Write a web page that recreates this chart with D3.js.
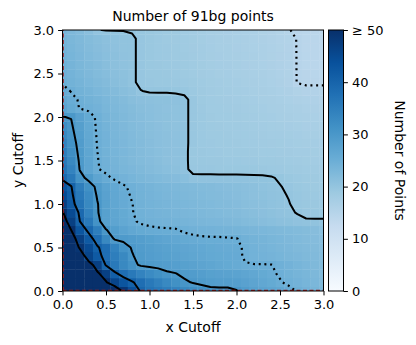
<!DOCTYPE html>
<html>
<head>
<meta charset="utf-8">
<script src="https://cdnjs.cloudflare.com/ajax/libs/d3/7.8.5/d3.min.js"></script>
<style>
	body { margin: 0; background: #fff; }
	svg text { font-family: "DejaVu Sans", sans-serif; fill: #000; }
</style>
</head>
<body>
<div id="chart"></div>
<script>

// cutoff values on both axes (grid points)
var cutoffs = [0.0,0.1,0.2,0.3,0.4,0.5,0.6,0.7,0.8,0.9,1.0,1.1,1.2,1.3,1.4,1.5,
               1.6,1.7,1.8,1.9,2.0,2.1,2.2,2.3,2.4,2.5,2.6,2.7,2.8,2.9,3.0];

// number of 91bg points, counts[j][i] -> y cutoff = cutoffs[j], x cutoff = cutoffs[i]
var counts = [
 [95,88,80,72,65,60,55,49,44,39.5,37,36,35,34,33,32,31.5,31,31,31,30.2,29,28,27.5,27,26.5,25.8,24.8,24,23.5,23],
 [85,78,70,62,56,50.5,46,43,40.5,38,36,34.5,33,31.5,30.5,29.8,29.3,28.8,28.5,28.5,28.3,27.8,27.2,26.6,26,25.2,24.5,24,23.5,23,22.5],
 [80,72,65,58,51,47,41,38,36,34,32.5,31.5,30.5,30.1,29.3,29,28.5,28,27.8,27.6,27.4,27,26.5,26,25.4,24.7,24.2,23.7,23.3,22.8,22.3],
 [75,67,60,53,47,39.5,36,33,31,29.5,29.2,29,28.7,28.3,28,27.6,27.2,26.8,26.4,26,25.6,25.2,25.1,25.1,25.05,24.5,24,23.5,23,22.6,22.2],
 [70,62,55,46,42,38,35,33,30.2,29.2,28.7,28.3,28,27.6,27.2,26.8,26.5,26.2,26,25.9,25.8,24.6,24.1,24,23.8,23.5,23.2,22.9,22.6,22.3,22],
 [65,57,49,45,40.5,38,34,31,29.8,29,28.5,28.1,27.7,27.3,26.9,26.6,26.3,26,25.8,25.6,25.6,24.6,24.1,23.8,23.5,23.2,22.9,22.6,22.3,22,21.8],
 [61,53,47,42,38,33,29.6,29.4,29,28.5,28,27.5,27,26.5,26,25.6,25.4,25.3,25.3,25.2,25.1,24.3,23.9,23.6,23.3,23,22.7,22.4,22.1,21.8,21.6],
 [57,50,43,39,35,30.2,28.6,27.5,26.6,26,25.6,25.4,25.3,25.2,24.6,24.3,24.1,24,23.9,23.8,23.6,23.4,23.2,23,22.8,22.6,22.4,22.2,21.9,21.6,21.3],
 [53,47,40,36,31,28,27,26.2,25.4,24.6,24.3,24.1,24,23.9,23.7,23.4,23.2,23,22.9,22.7,22.5,22.2,21.9,21.6,21.3,21,20.8,20.5,20.3,20.3,20.3],
 [50.5,45,39,34,30.3,28,26.8,26,25.1,24.4,24,23.8,23.6,23.4,23.2,23,22.8,22.6,22.4,22.2,22,21.7,21.4,21.1,20.8,20.5,20.3,19.9,19.4,19.3,19.3],
 [47,42,37,33,30.2,28,26.6,25.8,25.05,24.3,23.9,23.6,23.4,23.2,23,22.8,22.6,22.4,22.2,22,21.8,21.5,21.2,20.9,20.6,20.4,20.1,19.5,19.2,19.1,19],
 [45,41,36,32.5,29.7,27.8,26.5,25.6,24.8,24.2,23.8,23.5,23.2,23,22.8,22.6,22.4,22.2,22,21.8,21.6,21.3,21,20.8,20.5,20.3,19.9,19.5,19.1,19,18.9],
 [43,40.2,35,31.5,29.3,27.5,26.3,25.3,24.5,24,23.6,23.3,23,22.8,22.6,22.4,22.2,22,21.8,21.6,21.4,21.2,20.9,20.6,20.3,20.1,19.6,19.3,19,18.8,18.7],
 [39,36,31,29.2,27,25.6,24.6,24,23.5,23.1,22.7,22.4,22.1,21.8,21.3,20.5,20.45,20.45,20.45,20.45,20.45,20.45,20.4,20.4,20.2,19.7,19.3,19,18.8,18.6,18.5],
 [37,34,29.8,27,25.2,24.4,23.8,23.3,22.9,22.5,22.1,21.7,21.3,20.9,20.5,19.4,19.4,19.4,19.3,19.3,19.3,19.2,19.2,19.1,19,18.9,18.8,18.6,18.5,18.3,18.2],
 [36,33,29.5,27,25.1,24.3,23.6,23.1,22.6,22.2,21.8,21.4,21,20.7,20.5,19.3,19.2,19.1,19.1,19,19,18.9,18.9,18.8,18.7,18.6,18.5,18.3,18.1,18,17.9],
 [35,32,29.2,26.8,25.02,24.2,23.5,23,22.5,22.1,21.7,21.3,20.9,20.7,20.5,19.3,19.1,19,18.9,18.8,18.8,18.7,18.6,18.5,18.4,18.3,18.2,18,17.9,17.8,17.7],
 [34,31.3,29,26.6,24.9,24.1,23.4,22.9,22.4,22,21.6,21.2,20.9,20.7,20.5,19.4,19,18.9,18.8,18.7,18.6,18.5,18.4,18.3,18.2,18.1,18,17.8,17.7,17.6,17.5],
 [33,30.8,28.6,26.4,24.8,24,23.3,22.8,22.3,21.9,21.5,21.2,20.9,20.7,20.5,19.4,19,18.8,18.7,18.6,18.5,18.4,18.3,18.2,18,17.9,17.8,17.6,17.4,17.3,17.2],
 [32,30.3,28.4,26.2,24.7,23.9,23.2,22.7,22.2,21.8,21.4,21.1,20.8,20.6,20.5,19.4,19,18.7,18.6,18.5,18.4,18.3,18.1,18,17.8,17.7,17.5,17.3,17.1,17,16.9],
 [30.05,29.9,27.8,26,24.6,23.7,23.1,22.6,22.1,21.7,21.3,21,20.8,20.6,20.5,19.4,19,18.6,18.5,18.4,18.3,18.1,17.9,17.8,17.6,17.4,17.2,17,16.8,16.7,16.6],
 [27.5,26,24.9,24.5,24,23.3,22.8,22.3,21.9,21.5,21.2,20.9,20.7,20.6,20.5,19.4,18.9,18.5,18.4,18.3,18.2,18,17.8,17.6,17.4,17.2,17,16.8,16.6,16.4,16.3],
 [26.5,25.5,24.8,24.2,23.6,23,22.5,22,21.5,21.1,20.9,20.8,20.8,20.7,20.5,19.4,18.8,18.4,18.3,18.2,18,17.8,17.6,17.4,17.2,17,16.7,16.4,16.2,16.1,16],
 [25.6,24.9,24.2,23.6,23,22.5,22,21.5,21,20.05,19.8,19.8,19.8,19.7,19.5,19,18.6,18.3,18.1,18,17.8,17.6,17.4,17.2,17,16.7,16.4,15.9,15.7,15.7,15.7],
 [24.8,24.2,23.6,23,22.5,22,21.5,21,20.3,19.6,19.4,19.3,19.2,19.1,19,18.7,18.4,18.1,17.9,17.8,17.6,17.4,17.2,17,16.7,16.4,16,14.9,14.6,14.6,14.6],
 [24.5,23.9,23.3,22.7,22.2,21.7,21.2,20.8,20.3,19.6,19.3,19.2,19.1,19,18.8,18.5,18.2,17.9,17.7,17.6,17.4,17.2,17,16.8,16.5,16.2,15.9,14.9,14.6,14.5,14.5],
 [24.3,23.7,23.1,22.5,22,21.5,21,20.6,20.3,19.6,19.3,19.1,19,18.9,18.7,18.4,18.1,17.8,17.6,17.5,17.3,17.1,16.9,16.7,16.4,16.1,15.8,14.9,14.5,14.4,14.4],
 [24.1,23.5,22.9,22.3,21.8,21.3,20.9,20.5,20.3,19.6,19.2,19,18.9,18.8,18.6,18.3,18,17.7,17.5,17.4,17.2,17,16.8,16.6,16.3,16,15.8,14.9,14.5,14.4,14.3],
 [23.9,23.3,22.7,22.1,21.6,21.1,20.7,20.4,20.3,19.6,19.2,19,18.9,18.7,18.5,18.2,17.9,17.6,17.4,17.3,17.1,16.9,16.7,16.5,16.2,15.9,15.7,14.9,14.4,14.3,14.3],
 [23.7,23.1,22.5,21.9,21.4,20.9,20.6,20.4,20.3,19.6,19.2,19,18.8,18.6,18.4,18.1,17.8,17.5,17.3,17.2,17,16.8,16.6,16.4,16.1,15.8,15.6,14.9,14.4,14.3,14.2],
 [23.4,22.7,22,21.2,20.05,19.95,19.95,19.95,19.8,19.5,19.2,19,18.8,18.6,18.3,18,17.7,17.4,17.2,17.1,16.9,16.7,16.5,16.3,16,15.6,15.1,14.6,14.3,14.2,14.2]
];

var solidLevels = [20, 30, 40, 50];
var dottedLevels = [15, 25];
var axisTicks = [0, 0.5, 1, 1.5, 2, 2.5, 3];
var barTicks = [0, 10, 20, 30, 40, 50];
var vmax = 50;
var blues = ["#f7fbff","#deebf7","#c6dbef","#9ecae1","#6baed6","#4292c6","#2171b5","#08519c","#08306b"];

var width = 416, height = 345;
var plot = {left: 62.5, right: 323.5, top: 30, bottom: 291};
var bar = {left: 328.5, right: 343.5};

var x = d3.scaleLinear().domain([0, 3]).range([plot.left, plot.right]);
var y = d3.scaleLinear().domain([0, 3]).range([plot.bottom, plot.top]);
var color = d3.scaleLinear()
    .domain(blues.map(function(c, i) { return i * vmax / (blues.length - 1); }))
    .range(blues)
    .clamp(true);

var svg = d3.select("#chart").append("svg")
    .attr("width", width)
    .attr("height", height);

svg.append("defs").append("clipPath").attr("id", "plotclip")
    .append("rect")
    .attr("x", plot.left).attr("y", plot.top)
    .attr("width", plot.right - plot.left)
    .attr("height", plot.bottom - plot.top);

var g = svg.append("g").attr("clip-path", "url(#plotclip)");

// heatmap cells, centred on grid points
var step = cutoffs[1] - cutoffs[0];
var cells = [];
counts.forEach(function(row, j) {
    row.forEach(function(v, i) { cells.push({i: i, j: j, v: v}); });
});
g.selectAll("rect.cell")
    .data(cells)
    .enter().append("rect")
    .attr("class", "cell")
    .attr("x", function(d) { return x(cutoffs[d.i] - step / 2); })
    .attr("y", function(d) { return y(cutoffs[d.j] + step / 2); })
    .attr("width", x(step) - x(0) + 0.4)
    .attr("height", y(0) - y(step) + 0.4)
    .attr("fill", function(d) { return color(d.v); });

// contour lines
var n = cutoffs.length;
var flat = [];
counts.forEach(function(row) { row.forEach(function(v) { flat.push(v); }); });

var proj = d3.geoTransform({
    point: function(px, py) {
        this.stream.point(x(cutoffs[0] + (px - 0.5) * step), y(cutoffs[0] + (py - 0.5) * step));
    }
});
var path = d3.geoPath(proj);

function drawLevels(levels, dash) {
    var cs = d3.contours().size([n, n]).thresholds(levels)(flat);
    g.selectAll(null)
        .data(cs)
        .enter().append("path")
        .attr("d", path)
        .attr("fill", "none")
        .attr("stroke", "#000")
        .attr("stroke-width", dash ? 2.2 : 2)
        .attr("stroke-linejoin", "round")
        .attr("stroke-dasharray", dash);
}
drawLevels(solidLevels, null);
drawLevels(dottedLevels, "2,3.7");

// red dashed lines at zero
g.append("line")
    .attr("x1", x(0)).attr("x2", x(0)).attr("y1", y(0)).attr("y2", y(3))
    .attr("stroke", "#a51c1c").attr("stroke-width", 2.6).attr("stroke-dasharray", "4,2.5");
g.append("line")
    .attr("x1", x(0)).attr("x2", x(3)).attr("y1", y(0)).attr("y2", y(0))
    .attr("stroke", "#a51c1c").attr("stroke-width", 2.6).attr("stroke-dasharray", "4,2.5");

// axes
var fmt = d3.format(".1f");
var xAxis = svg.append("g")
    .attr("transform", "translate(0," + plot.bottom + ")")
    .call(d3.axisBottom(x).tickValues(axisTicks).tickFormat(fmt).tickSize(4.4).tickPadding(4));
var yAxis = svg.append("g")
    .attr("transform", "translate(" + plot.left + ",0)")
    .call(d3.axisLeft(y).tickValues(axisTicks).tickFormat(fmt).tickSize(4.4).tickPadding(4));
[xAxis, yAxis].forEach(function(a) {
    a.select(".domain").remove();
    a.attr("font-family", "DejaVu Sans").attr("font-size", 13);
});

svg.append("rect")
    .attr("x", plot.left).attr("y", plot.top)
    .attr("width", plot.right - plot.left).attr("height", plot.bottom - plot.top)
    .attr("fill", "none").attr("stroke", "#000").attr("stroke-width", 1);

// colorbar
var cb = d3.scaleLinear().domain([0, vmax]).range([plot.bottom, plot.top]);
var grad = svg.select("defs").append("linearGradient")
    .attr("id", "cbgrad")
    .attr("x1", 0).attr("y1", 1).attr("x2", 0).attr("y2", 0);
blues.forEach(function(c, i) {
    grad.append("stop").attr("offset", i / (blues.length - 1)).attr("stop-color", c);
});
svg.append("rect")
    .attr("x", bar.left).attr("y", plot.top)
    .attr("width", bar.right - bar.left).attr("height", plot.bottom - plot.top)
    .attr("fill", "url(#cbgrad)")
    .attr("stroke", "#000").attr("stroke-width", 1);

var cAxis = svg.append("g")
    .attr("transform", "translate(" + bar.right + ",0)")
    .call(d3.axisRight(cb).tickValues(barTicks).tickSize(4.4).tickPadding(4)
        .tickFormat(function(d) { return d === vmax ? "\u2265 " + d : d; }));
cAxis.select(".domain").remove();
cAxis.attr("font-family", "DejaVu Sans").attr("font-size", 13);

// titles and labels
svg.append("text")
    .attr("x", (plot.left + plot.right) / 2).attr("y", 21)
    .attr("text-anchor", "middle").attr("font-size", 14)
    .text("Number of 91bg points");
svg.append("text")
    .attr("x", (plot.left + plot.right) / 2).attr("y", 332)
    .attr("text-anchor", "middle").attr("font-size", 14)
    .text("x Cutoff");
svg.append("text")
    .attr("transform", "translate(23," + (plot.top + plot.bottom) / 2 + ") rotate(-90)")
    .attr("text-anchor", "middle").attr("font-size", 14)
    .text("y Cutoff");
svg.append("text")
    .attr("transform", "translate(394.5," + (plot.top + plot.bottom) / 2 + ") rotate(90)")
    .attr("text-anchor", "middle").attr("font-size", 14)
    .text("Number of Points");

</script>
</body>
</html>
